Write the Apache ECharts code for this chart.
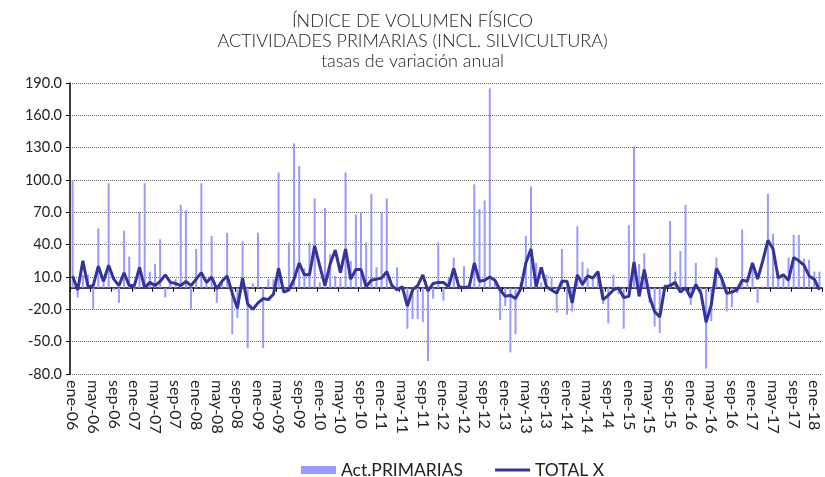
<!DOCTYPE html>
<html>
<head>
<meta charset="utf-8">
<script src="https://cdn.jsdelivr.net/npm/echarts@6/dist/echarts.min.js"></script>
<style>
html,body{margin:0;padding:0;background:#fff;}
#c{width:825px;height:477px;}
</style>
</head>
<body>
<div id="c"></div>
<script>
const monthNames = ['ene','feb','mar','abr','may','jun','jul','ago','sep','oct','nov','dic'];
const years = ['06','07','08','09','10','11','12','13','14','15','16','17','18'];
const lastYearMonths = 2;
const categories = [];
years.forEach((y, yi) => {
  const n = yi === years.length - 1 ? lastYearMonths : 12;
  for (let m = 0; m < n; m++) categories.push(monthNames[m] + '-' + y);
});

const actPrimarias = [
  100, -9, 12, 12, -20, 55, 8, 97, -2, -14, 53, 29, -2, 70, 97, 15, 22, 45, -9, 5, 8, 77, 72, -20, 36, 97, 5, 48, -14,
  5, 51, -43, -28, 43, -56, 4, 51, -56, 8, 8, 107, -2, 42, 134, 113, 18, 42, 83, 5, 74, 31, 11, 9, 107, 25, 68, 70, 42,
  87, 19, 70, 83, 3, 19, -3, -38, -29, -29, -32, -68, -10, 42, -12, 9, 28, 2, 20, 2, 96, 73, 81, 185, 5, -30, -17, -60, -43, 5,
  48, 94, 23, 5, 12, 9, -23, 36, -25, -22, 57, 24, 18, 8, 15, -15, -33, 12, -6, -38, 58, 131, 22, 32, -14, -36,
  -42, 3, 62, 15, 34, 77, -16, 23, -4, -75, -31, 28, 11, -22, -18, -5, 54, 8, 23, -14, 1, 87, 50, 11, 9, 28, 49, 49, 27, 26, 15, 15
];

const totalX = [
  11, -2, 25, 1, 2, 20, 6, 21, 8, 2, 14, 2, 2, 19, 0, 5, 2, 6, 12, 5, 4, 2, 6, 2, 8, 14, 5, 10, -1,
  6, 11, -5, -19, 9, -15, -20, -14, -10, -11, -6, 18, -4, -2, 8, 23, 12, 12, 39, 20, 2, 22, 35, 14, 36, 8, 17, 17, 1,
  7, 8, 9, 15, 2, -2, 1, -17, -2, 2, 12, -3, 4, 5, 5, 1, 18, 1, 0, 1, 23, 6, 7, 10, 7, -2, -8, -7, -10, -1,
  23, 36, 1, 19, 1, -2, -5, 6, 6, -14, 12, 3, 11, 9, 15, -11, -7, -2, 0, -9, -8, 24, -8, 17, -8, -22,
  -27, 1, 2, 5, -4, 0, -9, 3, -5, -32, -16, 18, 9, -5, -4, -2, 7, 6, 23, 8, 25, 44, 36, 9, 12, 7, 28, 25, 21, 11, 8, -2
];

const titleLines = ['ÍNDICE DE VOLUMEN FÍSICO', 'ACTIVIDADES PRIMARIAS (INCL. SILVICULTURA)', 'tasas de variación anual'];
const yMin = -80, yMax = 190, yStep = 30;

const font = 'Lato, "Open Sans", sans-serif';
const chart = echarts.init(document.getElementById('c'), null, {renderer: 'canvas'});
chart.setOption({
  animation: false,
  backgroundColor: '#fff',
  title: {
    text: titleLines.join('\n'),
    left: 'center',
    top: 6,
    textStyle: {fontFamily: font, fontWeight: 300, fontSize: 18, color: '#222', lineHeight: 20}
  },
  legend: {
    top: 456,
    left: 296,
    itemGap: 32,
    itemWidth: 35,
    itemHeight: 8,
    textStyle: {fontFamily: font, fontSize: 17.5, color: '#222'},
    data: [
      {name: 'Act.PRIMARIAS', icon: 'rect'},
      {name: 'TOTAL X', icon: 'path://M0,0 L35,0 L35,3 L0,3 Z'}
    ]
  },
  grid: {left: 70, right: 3, top: 83, bottom: 103, containLabel: false},
  xAxis: [
    {
      type: 'category',
      data: categories,
      boundaryGap: true,
      axisLine: {onZero: true, lineStyle: {color: '#000', width: 1.5}},
      axisTick: {show: true, interval: 3, length: 4, inside: false, lineStyle: {color: '#000'}},
      axisLabel: {show: false},
      splitLine: {show: false}
    },
    {
      type: 'category',
      data: categories,
      position: 'bottom',
      boundaryGap: true,
      axisLine: {show: false, onZero: false},
      axisTick: {show: false},
      axisLabel: {
        interval: 3, rotate: -90, margin: 6,
        fontFamily: font, fontSize: 16, color: '#222'
      },
      splitLine: {show: false}
    }
  ],
  yAxis: {
    type: 'value',
    min: yMin, max: yMax, interval: yStep,
    axisLine: {show: true, lineStyle: {color: '#000', width: 1.5}},
    axisTick: {show: true, length: 4, lineStyle: {color: '#000'}},
    axisLabel: {
      formatter: v => v.toFixed(1), margin: 8,
      fontFamily: font, fontSize: 14.5, color: '#222'
    },
    splitLine: {show: true, lineStyle: {color: '#666', type: [1, 1], width: 1}}
  },
  series: [
    {
      name: 'Act.PRIMARIAS',
      type: 'bar',
      xAxisIndex: 0,
      data: actPrimarias,
      barWidth: 2,
      itemStyle: {color: '#9999FF'}
    },
    {
      name: 'TOTAL X',
      type: 'line',
      xAxisIndex: 0,
      data: totalX,
      symbol: 'none',
      lineStyle: {color: '#333399', width: 3},
      itemStyle: {color: '#333399'}
    }
  ]
});
</script>
</body>
</html>
